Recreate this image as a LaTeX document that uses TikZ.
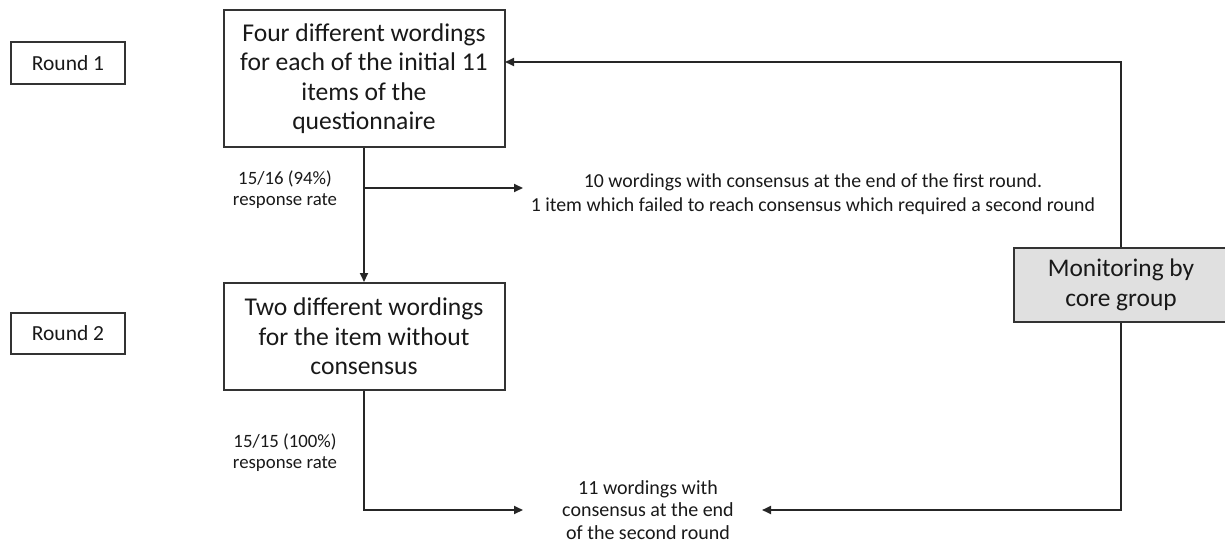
\documentclass[tikz,border=0pt]{standalone}
\usepackage{fontspec}
\setmainfont{Carlito}
\usetikzlibrary{arrows.meta}
\tikzset{
  mainbox/.style={draw=black!80, line width=2pt, fill=white, align=center, inner sep=0pt,
    text=black!90, font=\fontsize{25.6}{29.5}\selectfont},
  roundbox/.style={draw=black!80, line width=2pt, align=center, inner sep=0pt,
    minimum width=114pt, minimum height=41pt, text=black!90, font=\fontsize{21.5}{25}\selectfont},
  monbox/.style={draw=black!80, line width=2pt, fill=black!12, align=center, inner sep=0pt,
    minimum width=214pt, minimum height=74pt, text=black!90, font=\fontsize{25.4}{29.5}\selectfont},
  smalltext/.style={align=center, inner sep=0pt, text=black!90, font=\fontsize{19.8}{24}\selectfont},
  labeltext/.style={align=center, inner sep=0pt, text=black!90, font=\fontsize{18.8}{21}\selectfont},
  conn/.style={draw=black!85, line width=2pt},
  arr/.style={conn, -{Triangle[length=9pt,width=8pt]}}
}
\begin{document}
\begin{tikzpicture}[x=1pt,y=-1pt]
\useasboundingbox (0,0) rectangle (1225,543);
\clip (0,0) rectangle (1225,543);
% round labels
\node[roundbox] (r1) at (68,63) {Round 1};
\node[roundbox] (r2) at (68,333) {Round 2};
% main boxes
\node[mainbox, minimum width=281pt, minimum height=137pt] (b1) at (364,78.5)
  {Four different wordings\\for each of the initial 11\\items of the\\questionnaire};
\node[mainbox, minimum width=281pt, minimum height=107pt] (b2) at (364,336.5)
  {Two different wordings\\for the item without\\consensus};
% monitoring
\node[monbox] (mon) at (1121,285) {Monitoring by\\core group};
% texts
\node[smalltext] (t1) at (813,194)
  {10 wordings with consensus at the end of the first round.\\1 item which failed to reach consensus which required a second round};
\node[smalltext, font=\fontsize{20}{22.5}\selectfont] (t2) at (648,510)
  {11 wordings with\\consensus at the end\\of the second round};
\node[labeltext] (l1) at (285,189.5) {15/16 (94\%)\\response rate};
\node[labeltext] (l2) at (285,452.5) {15/15 (100\%)\\response rate};
% coordinates
\coordinate (br1) at (364,188);
\coordinate (e1) at (523,188);
\coordinate (c2) at (364,510);
\coordinate (e2) at (523,510);
\coordinate (c3) at (1121,510);
\coordinate (e3) at (762,510);
\coordinate (c4) at (1121,62);
\coordinate (e4) at (505,62);
% connectors
\draw[arr] (b1.south) -- (b2.north);
\draw[arr] (br1) -- (e1);
\draw[arr] (b2.south) -- (c2) -- (e2);
\draw[arr] (mon.south) -- (c3) -- (e3);
\draw[arr] (mon.north) -- (c4) -- (e4);
\end{tikzpicture}
\end{document}
